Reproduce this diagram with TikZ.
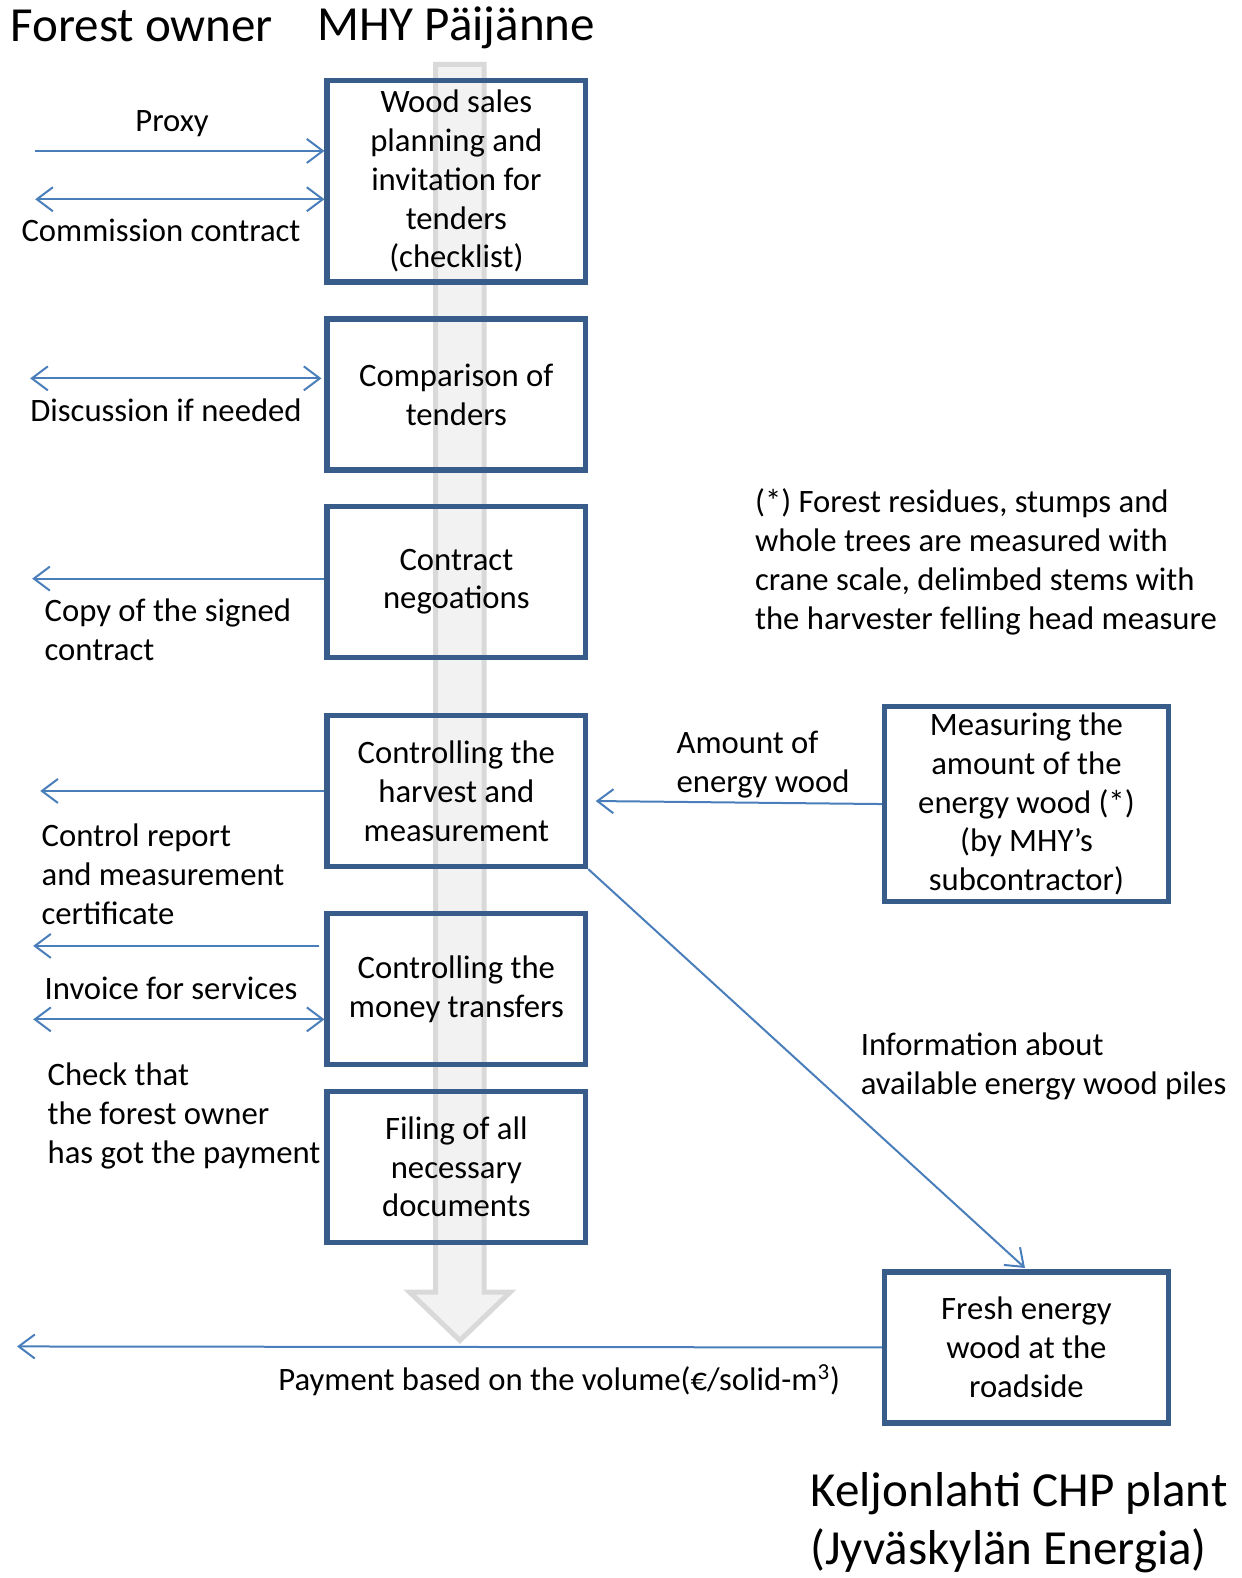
\documentclass[tikz,border=0pt]{standalone}
\usepackage{fontspec}
\setmainfont{Carlito}
\usetikzlibrary{arrows.meta}
\definecolor{boxblue}{HTML}{385D8A}
\definecolor{lineblue}{HTML}{4A7EBB}
\definecolor{shaftfill}{HTML}{F2F2F2}
\definecolor{shaftdraw}{HTML}{D9D9D9}
\begin{document}
\begin{tikzpicture}[
    x=0.020129cm, y=-0.020129cm,
    every node/.style={font=\fontsize{18.6}{22.1}\selectfont, inner sep=0pt},
    stepbox/.style={draw=boxblue, line width=0.105cm, minimum width=5.17cm, minimum height=3.02cm, align=center},
    lbl/.style={align=left, anchor=west},
    title/.style={font=\fontsize{27.9}{32.9}\selectfont, align=left, anchor=west},
    flow/.style={draw=lineblue, line width=0.04cm, -{Straight Barb[length=0.32cm, width=0.48cm]}},
    both flow/.style={flow, {Straight Barb[length=0.32cm, width=0.48cm]}-{Straight Barb[length=0.32cm, width=0.48cm]}},
    ]
\useasboundingbox (0cm,0cm) rectangle (24.82cm,-31.56cm);
\draw[fill=shaftfill, draw=shaftdraw, line width=0.1cm, line join=miter]
    (433,64) -- (481,64) -- (481,1284) -- (507,1284) -- (457,1332) -- (407,1284) -- (433,1284) -- cycle;
\node[title] (owner) at (10,26) {Forest owner};
\node[title] (mhy) at (315,28) {MHY Päijänne};
\node[title] (plant) at (805,1513) {Keljonlahti CHP plant\\(Jyväskylän Energia)};
\node[stepbox, minimum height=4.03cm] (planning) at (453.5,180) {Wood sales\\planning and\\invitation for\\tenders\\(checklist)};
\node[stepbox] (comparison) at (453.5,392) {Comparison of\\tenders};
\node[stepbox] (contract) at (453.5,578) {Contract\\negoations};
\node[stepbox] (harvest) at (453.5,786) {Controlling the\\harvest and\\measurement};
\node[stepbox] (money) at (453.5,983) {Controlling the\\money transfers};
\node[stepbox] (filing) at (453.5,1159.5) {Filing of all\\necessary\\documents};
\node[stepbox, minimum width=5.68cm, minimum height=3.9cm] (measuring) at (1020,799) {Measuring the\\amount of the\\energy wood (*)\\(by MHY’s\\subcontractor)};
\node[stepbox, minimum width=5.68cm] (fresh) at (1020,1339) {Fresh energy\\wood at the\\roadside};
\coordinate (proxyS) at (35,150);
\coordinate (commS) at (35,198);
\coordinate (discS) at (30,376);
\coordinate (copyE) at (32,575);
\coordinate (ctrlE) at (40,786);
\coordinate (invE) at (33,940);
\coordinate (checkS) at (33,1013);
\coordinate (amountE) at (592,796);
\coordinate (payE) at (17,1338);
\draw[flow] (proxyS) -- (proxyS -| planning.west);
\draw[both flow] (commS) -- (commS -| planning.west);
\draw[both flow] (discS) -- ([xshift=-0.06cm]discS -| comparison.west);
\draw[flow] (copyE -| contract.west) -- (copyE);
\draw[flow] (harvest.west) -- (ctrlE);
\draw[flow] ([xshift=-0.1cm]invE -| money.west) -- (invE);
\draw[both flow] (checkS) -- (checkS -| money.west);
\draw[flow] (measuring.west) -- (amountE);
\draw[flow, shorten >=0.04cm] (harvest.south east) -- (fresh.north);
\draw[flow] (fresh.west) -- (payE);
\node (proxyLbl) at (171,123) {Proxy};
\node (commLbl) at (160,229) {Commission contract};
\node (discLbl) at (165,408) {Discussion if needed};
\node[lbl] (copyLbl) at (44,626) {Copy of the signed\\contract};
\node[lbl] (ctrlLbl) at (41,869) {Control report\\and measurement\\certificate};
\node[lbl] (invLbl) at (44,982) {Invoice for services};
\node[lbl] (checkLbl) at (47,1109) {Check that\\the forest owner\\has got the payment};
\node[lbl] (amountLbl) at (672,760) {Amount of\\energy wood};
\node[lbl] (infoLbl) at (855,1059.5) {Information about\\available energy wood piles};
\node[lbl] (noteLbl) at (750,558.5) {(*) Forest residues, stumps and\\whole trees are measured with\\crane scale, delimbed stems with\\the harvester felling head measure};
\node[anchor=east] (payLbl) at (835,1372) {Payment based on the volume(€/solid-m\textsuperscript{3})};
\end{tikzpicture}
\end{document}
